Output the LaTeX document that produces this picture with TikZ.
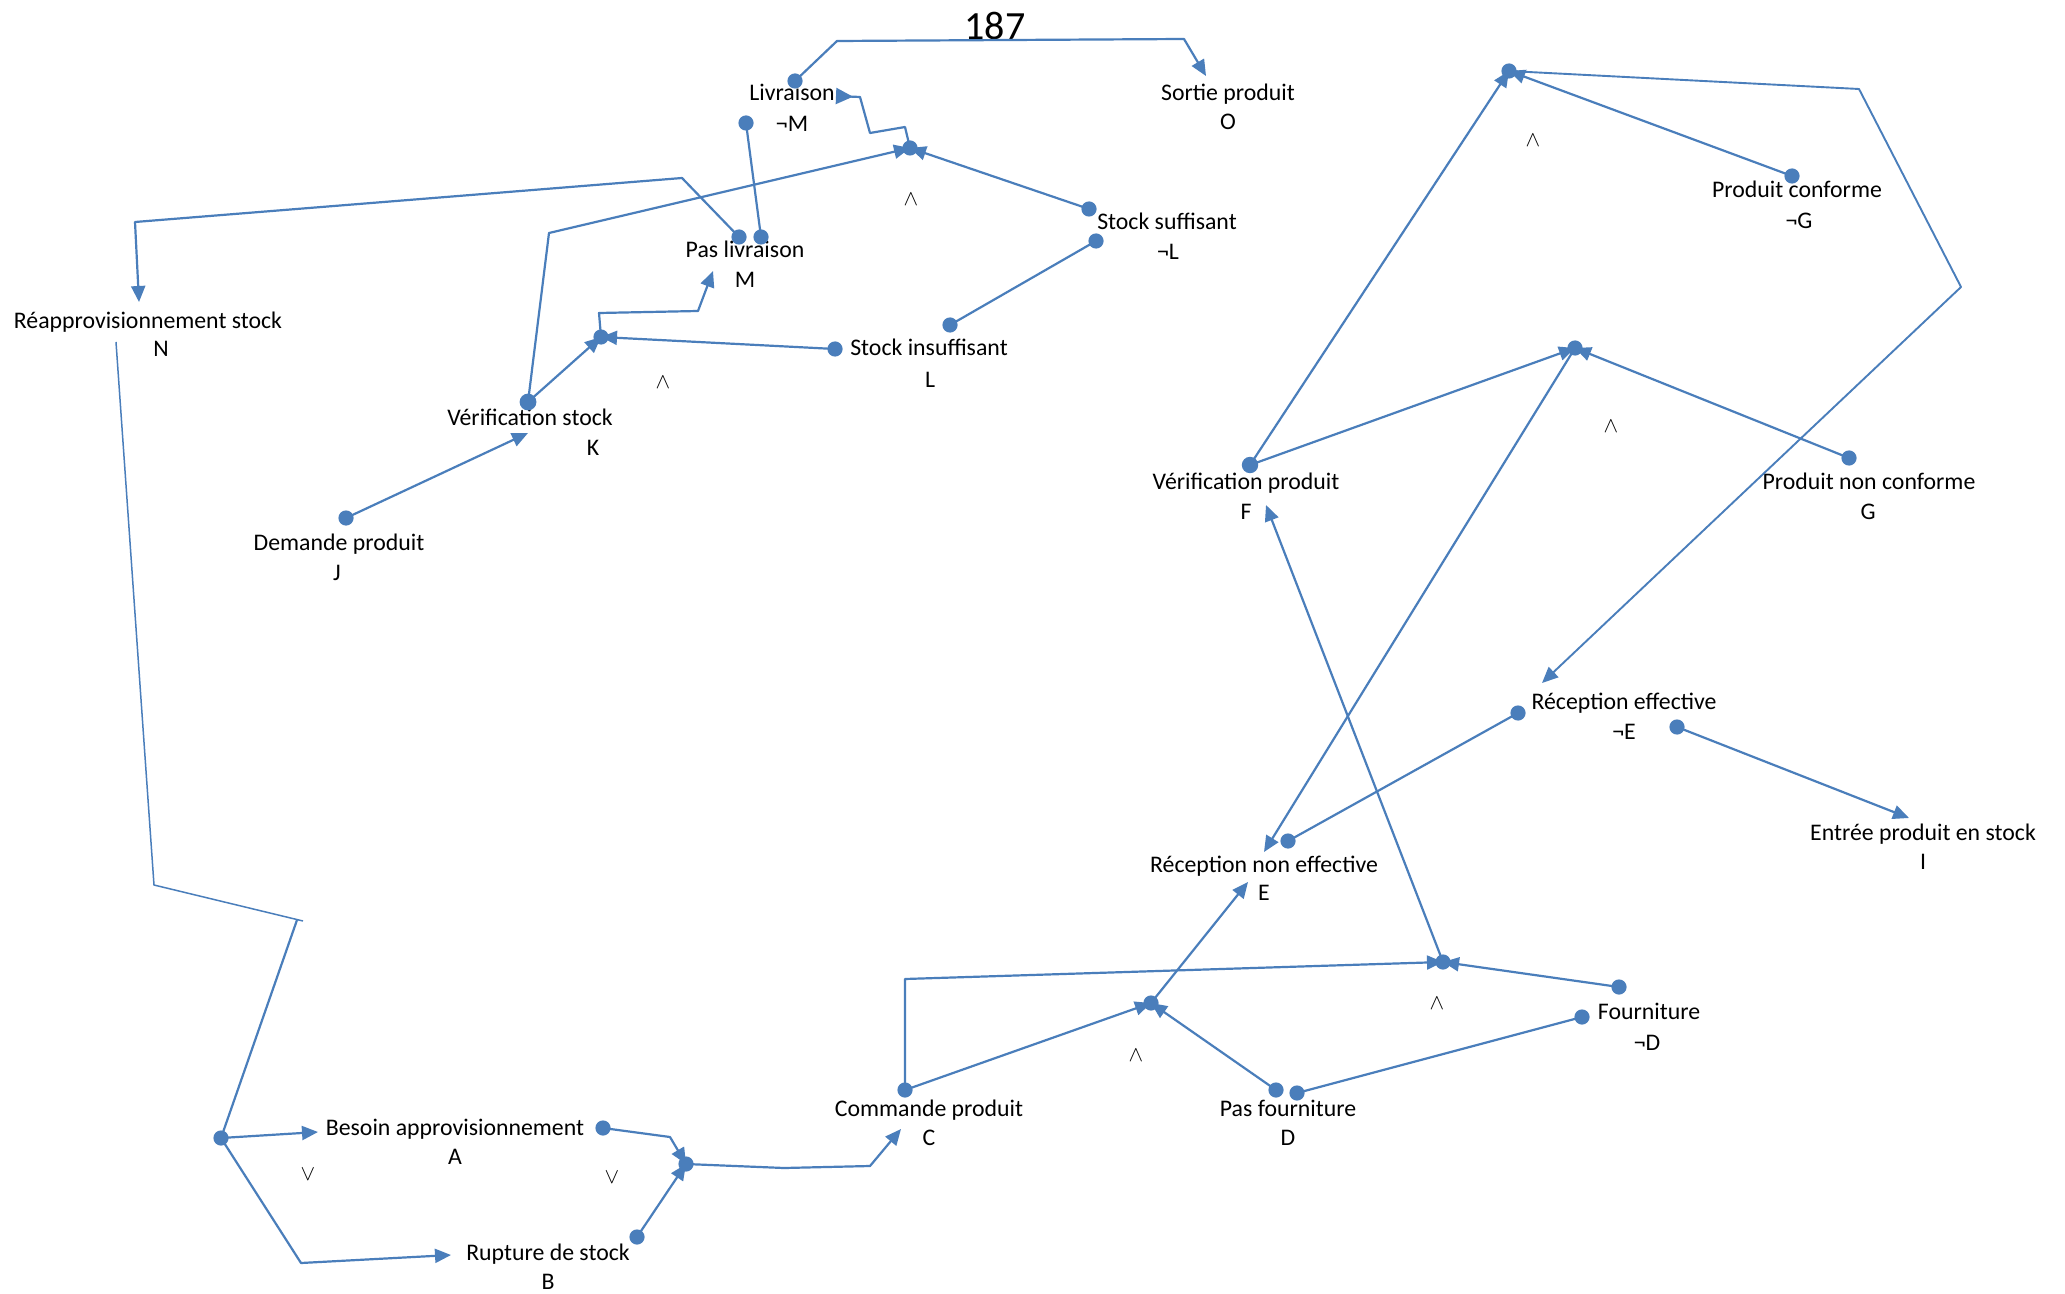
\documentclass[tikz,border=0pt]{standalone}
\usepackage{fontspec}
\setmainfont{Carlito}
\usetikzlibrary{arrows.meta}
\definecolor{linkblue}{RGB}{74,126,187}
\tikzset{
  dot/.style={circle, fill=linkblue, draw=none, inner sep=0pt, minimum size=7.6pt},
  link/.style={draw=linkblue, line width=1.1pt, line join=round},
  thinlink/.style={draw=linkblue, line width=0.75pt, line join=round},
  arr/.style={link, -{Triangle[length=8pt, width=7pt]}},
  lbl/.style={font=\fontsize{11.9}{14}\selectfont, inner sep=0pt, anchor=base},
  op/.style={font=\fontsize{10.5}{12}\selectfont, inner sep=0pt}
}
\begin{document}
\begin{tikzpicture}[x=0.5pt, y=-0.5pt]
\useasboundingbox (0,0) rectangle (2065,1294);
\fill[white] (0,0) rectangle (2065,1294);

% page number
\node[font=\fontsize{20}{24}\selectfont, inner sep=0pt] (pagenum) at (995,25.5) {187};

% ---- labels ----
\node[lbl] (tLiv)  at (792,101)  {Livraison};
\node[lbl] (lLiv)  at (792,132)  {¬M};
\node[lbl] (tSor)  at (1228,101) {Sortie produit};
\node[lbl] (lSor)  at (1228,130) {O};
\node[lbl] (tSS)   at (1167,230) {Stock suffisant};
\node[lbl] (lSS)   at (1168,260) {¬L};
\node[lbl] (tPL)   at (745,258)  {Pas livraison};
\node[lbl] (lPL)   at (745,288)  {M};
\node[lbl] (tRea)  at (148,329)  {Réapprovisionnement stock};
\node[lbl] (lRea)  at (161,357)  {N};
\node[lbl] (tSI)   at (929,356)  {Stock insuffisant};
\node[lbl] (lSI)   at (930,387)  {L};
\node[lbl] (tVS)   at (530,425)  {Vérification stock};
\node[lbl] (lVS)   at (593,455)  {K};
\node[lbl] (tDP)   at (339,550)  {Demande produit};
\node[lbl] (lDP)   at (337,580)  {J};
\node[lbl] (tPC)   at (1797,198) {Produit conforme};
\node[lbl] (lPC)   at (1799,229) {¬G};
\node[lbl] (tVP)   at (1246,489) {Vérification produit};
\node[lbl] (lVP)   at (1246,519) {F};
\node[lbl] (tPNC)  at (1869,489) {Produit non conforme};
\node[lbl] (lPNC)  at (1868,519) {G};
\node[lbl] (tRE)   at (1624,709) {Réception effective};
\node[lbl] (lRE)   at (1624,739) {¬E};
\node[lbl] (tEPS)  at (1923,840) {Entrée produit en stock};
\node[lbl] (lEPS)  at (1923,869) {I};
\node[lbl] (tRNE)  at (1264,872) {Réception non effective};
\node[lbl] (lRNE)  at (1264,900) {E};
\node[lbl] (tFo)   at (1649,1019) {Fourniture};
\node[lbl] (lFo)   at (1647,1050) {¬D};
\node[lbl] (tCP)   at (929,1116) {Commande produit};
\node[lbl] (lCP)   at (929,1145) {C};
\node[lbl] (tPF)   at (1288,1116) {Pas fourniture};
\node[lbl] (lPF)   at (1288,1145) {D};
\node[lbl] (tBA)   at (455,1135) {Besoin approvisionnement};
\node[lbl] (lBA)   at (455,1164) {A};
\node[lbl] (tRS)   at (548,1260) {Rupture de stock};
\node[lbl] (lRS)   at (548,1289) {B};

% ---- connective symbols ----
\node[op] (op1) at (911,199)   {$\wedge$};
\node[op] (op2) at (663,382)   {$\wedge$};
\node[op] (op3) at (1136,1055) {$\wedge$};
\node[op] (op4) at (1437,1003) {$\wedge$};
\node[op] (op5) at (1533,140)  {$\wedge$};
\node[op] (op6) at (1611,426)  {$\wedge$};
\node[op] (op7) at (308,1174)  {$\vee$};
\node[op] (op8) at (612,1177)  {$\vee$};

% ---- connection dots ----
\node[dot] (lvd)  at (795,81)   {};
\node[dot] (nmd)  at (746,123)  {};
\node[dot] (pl1)  at (739,237)  {};
\node[dot] (pl2)  at (761,237)  {};
\node[dot] (and1) at (910,148)  {};
\node[dot] (ss1)  at (1089,209) {};
\node[dot] (ss2)  at (1096,241) {};
\node[dot] (si1)  at (835,349)  {};
\node[dot] (si2)  at (950,325)  {};
\node[dot] (and2) at (601,337)  {};
\node[dot, minimum size=8.4pt] (vs) at (528,402) {};
\node[dot] (dp)   at (346,518)  {};
\node[dot] (or1)  at (221,1138) {};
\node[dot] (ba)   at (603,1128) {};
\node[dot] (rs)   at (637,1237) {};
\node[dot] (or2)  at (686,1164) {};
\node[dot] (cp)   at (905,1090) {};
\node[dot] (and3) at (1151,1003) {};
\node[dot] (pf1)  at (1276,1090) {};
\node[dot] (pf2)  at (1297,1093) {};
\node[dot] (and4) at (1443,962)  {};
\node[dot] (fo1)  at (1619,987)  {};
\node[dot] (fo2)  at (1582,1017) {};
\node[dot] (re1)  at (1518,713)  {};
\node[dot] (re2)  at (1677,727)  {};
\node[dot] (rne)  at (1288,841)  {};
\node[dot, minimum size=8.2pt] (vp) at (1250,465) {};
\node[dot] (and5) at (1509,71)   {};
\node[dot] (pc)   at (1792,176)  {};
\node[dot] (and6) at (1575,348)  {};
\node[dot] (pnc)  at (1849,458)  {};

% ---- free ends of connectors ----
\coordinate (toO)   at (1206,76);
\coordinate (toLiv) at (836,96);
\coordinate (toN)   at (139,302);
\coordinate (toM)   at (713,271);
\coordinate (toK)   at (528,433);
\coordinate (nfoot) at (116,342);
\coordinate (nend)  at (303,921);
\coordinate (orup)  at (297,920);
\coordinate (toA)   at (318,1132);
\coordinate (toB)   at (451,1255);
\coordinate (toC)   at (901,1129);
\coordinate (toE)   at (1248,882);
\coordinate (toF)   at (1266,505);
\coordinate (toI)   at (1909,818);
\coordinate (toRNE) at (1264,852);
\coordinate (toRE)  at (1542,683);

% ---- connectors: delivery part ----
\draw[arr] (lvd.center) -- (837,41) -- (1184,39) -- (toO);
\draw[link, -{Triangle[reversed, length=8.5pt, width=8pt]}]
  (and1.center) -- (905,127) -- (870,133) -- (860,97) -- (toLiv);
\draw[arr] (ss1.center) -- (and1.center);
\draw[arr] (vs.center) -- (549,233) -- (and1.center);
\draw[link] (nmd.center) -- (pl2.center);
\draw[arr] (pl1.center) -- (682,178) -- (135,222) -- (toN);
\draw[link] (ss2.center) -- (si2.center);
\draw[arr] (si1.center) -- (and2.center);
\draw[arr] (vs.center) -- (and2.center);
\draw[arr] (and2.center) -- (599,313) -- (698,311) -- (toM);
\draw[arr] (dp.center) -- (toK);

% ---- connectors: supply part ----
\draw[thinlink] (nfoot) -- (154,885) -- (nend);
\draw[link] (or1.center) -- (orup);
\draw[arr] (or1.center) -- (toA);
\draw[arr] (or1.center) -- (301,1263) -- (toB);
\draw[arr] (ba.center) -- (670,1137) -- (or2.center);
\draw[arr] (rs.center) -- (or2.center);
\draw[arr] (or2.center) -- (784,1168) -- (870,1166) -- (toC);
\draw[arr] (cp.center) -- (and3.center);
\draw[arr] (cp.center) -- (905,979) -- (and4.center);
\draw[arr] (pf1.center) -- (and3.center);
\draw[link] (pf2.center) -- (fo2.center);
\draw[arr] (fo1.center) -- (and4.center);
\draw[arr] (and3.center) -- (toE);
\draw[arr] (and4.center) -- (toF);

% ---- connectors: reception and checking ----
\draw[link] (re1.center) -- (rne.center);
\draw[arr] (re2.center) -- (toI);
\draw[arr] (and6.center) -- (toRNE);
\draw[arr] (vp.center) -- (and6.center);
\draw[arr] (pnc.center) -- (and6.center);
\draw[arr] (vp.center) -- (and5.center);
\draw[arr] (pc.center) -- (and5.center);
\draw[arr, line width=0.95pt] (and5.center) -- (1859,89) -- (1961,287) -- (toRE);
\end{tikzpicture}
\end{document}
